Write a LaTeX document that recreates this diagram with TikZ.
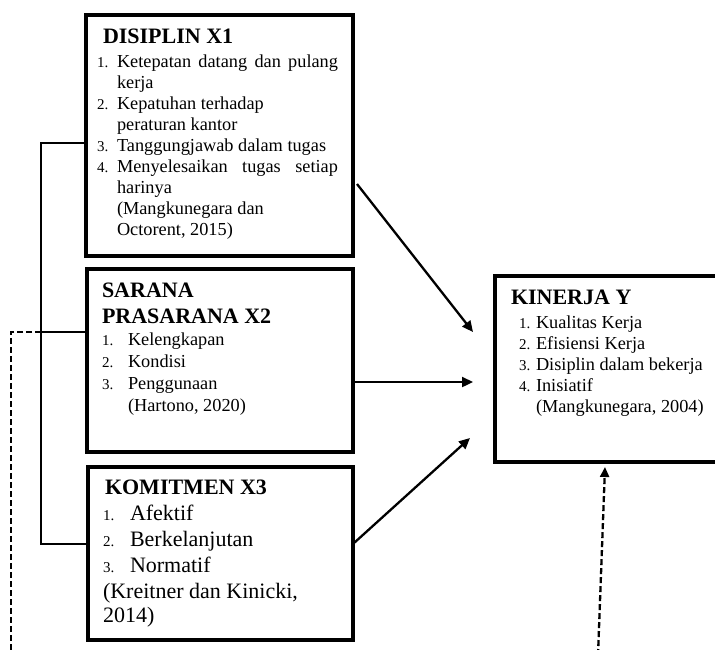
\documentclass[tikz,border=0pt]{standalone}
\usepackage{fontspec}
\setmainfont{Liberation Serif}
\usetikzlibrary{arrows.meta,calc}
\newcommand\ttlf{\fontsize{22}{26}\selectfont\bfseries}
\newcommand\numf{\fontsize{15}{18}\selectfont}
\newcommand\txtf{\fontsize{18.3}{21}\selectfont}
\newcommand\bigf{\fontsize{22}{26}\selectfont}
\begin{document}
\begin{tikzpicture}[x=1pt,y=-1pt,
  box/.style={draw,rectangle,line width=3.4pt,inner sep=0pt,outer sep=0pt},
  ttl/.style={anchor=base west,inner sep=0pt,outer sep=0pt,font=\ttlf},
  num/.style={anchor=base west,inner sep=0pt,outer sep=0pt,font=\numf},
  itm/.style={anchor=base west,inner sep=0pt,outer sep=0pt,font=\txtf},
  bigitm/.style={anchor=base west,inner sep=0pt,outer sep=0pt,font=\bigf},
  conn/.style={line width=2.3pt},
  arr/.style={line width=2.3pt,-{Triangle[length=11pt,width=10pt]}},
  dashline/.style={line width=2.3pt,dash pattern=on 6pt off 3pt},
  dasharr/.style={line width=2.3pt,dash pattern=on 6pt off 3pt,-{Triangle[length=10pt,width=9pt]}}]
\useasboundingbox (0,0) rectangle (715,649);
\clip (0,0) rectangle (715,649);

% boxes
\node[box,minimum width=267pt,minimum height=241pt] (x1) at (219.5,135.5) {};
\node[box,minimum width=266pt,minimum height=183pt] (x2) at (220,360.5) {};
\node[box,minimum width=265pt,minimum height=173pt] (x3) at (220.5,553.5) {};
\node[box,line width=4pt,minimum width=270pt,minimum height=186pt] (y) at (630,369) {};

% X1 text
\node[ttl] (x1t) at (103,43) {DISIPLIN X1};
\node[num] (x1n1) at (97,67) {1.};
\node[itm] (x1a) at (117,67) {\makebox[221pt][s]{Ketepatan datang dan pulang}};
\node[itm] (x1b) at (117,88) {kerja};
\node[num] (x1n2) at (97,109) {2.};
\node[itm] (x1c) at (117,109) {Kepatuhan terhadap};
\node[itm] (x1d) at (117,130) {peraturan kantor};
\node[num] (x1n3) at (97,151) {3.};
\node[itm] (x1e) at (117,151) {Tanggungjawab dalam tugas};
\node[num] (x1n4) at (97,172) {4.};
\node[itm] (x1f) at (117,172) {\makebox[221pt][s]{Menyelesaikan tugas setiap}};
\node[itm] (x1g) at (117,193) {harinya};
\node[itm] (x1h) at (117,214) {(Mangkunegara dan};
\node[itm] (x1i) at (117,235) {Octorent, 2015)};

% X2 text
\node[ttl] (x2t) at (102,297) {SARANA};
\node[ttl] (x2u) at (102,323) {PRASARANA X2};
\node[num] (x2n1) at (102,345) {1.};
\node[itm] (x2a) at (128,345) {Kelengkapan};
\node[num] (x2n2) at (102,367) {2.};
\node[itm] (x2b) at (128,367) {Kondisi};
\node[num] (x2n3) at (102,389) {3.};
\node[itm] (x2c) at (128,389) {Penggunaan};
\node[itm] (x2d) at (128,411) {(Hartono, 2020)};

% X3 text
\node[ttl] (x3t) at (105,494) {KOMITMEN X3};
\node[num] (x3n1) at (103,520) {1.};
\node[bigitm] (x3a) at (130,520) {Afektif};
\node[num] (x3n2) at (103,546) {2.};
\node[bigitm] (x3b) at (130,546) {Berkelanjutan};
\node[num] (x3n3) at (103,572) {3.};
\node[bigitm] (x3c) at (130,572) {Normatif};
\node[bigitm] (x3d) at (103,598) {(Kreitner dan Kinicki,};
\node[bigitm] (x3e) at (103,622) {2014)};

% Y text
\node[ttl] (yt) at (511,304) {KINERJA Y};
\node[num] (yn1) at (519,328) {1.};
\node[itm] (ya) at (536,328) {Kualitas Kerja};
\node[num] (yn2) at (519,349) {2.};
\node[itm] (yb) at (536,349) {Efisiensi Kerja};
\node[num] (yn3) at (519,370) {3.};
\node[itm] (yc) at (536,370) {Disiplin dalam bekerja};
\node[num] (yn4) at (519,391) {4.};
\node[itm] (yd) at (536,391) {Inisiatif};
\node[itm] (ye) at (536,412) {(Mangkunegara, 2004)};

% arrows to Y
\draw[arr] ([shift={(4,48.5)}]x1.east) -- ([shift={(-22,-37)}]y.west);
\draw[arr] ([shift={(0,21.5)}]x2.east) -- ([shift={(-22,13)}]y.west);
\draw[arr] ([shift={(1,-10.5)}]x3.east) -- ([shift={(-25,69)}]y.west);

% bracket
\coordinate (bk) at (41,332);
\draw[conn] ([shift={(0,7.5)}]x1.west) -| (bk) |- ([shift={(0,-9.5)}]x3.west);
\draw[conn] ([shift={(0,-28.5)}]x2.west) -- (bk);

% dashed lines
\coordinate (dl) at (11,332);
\coordinate (dle) at (11,655);
\draw[dashline] (bk) -- (dl) -- (dle);
\coordinate (db) at (598,655);
\draw[dasharr] (db) -- ([shift={(-25,5)}]y.south);
\end{tikzpicture}
\end{document}
